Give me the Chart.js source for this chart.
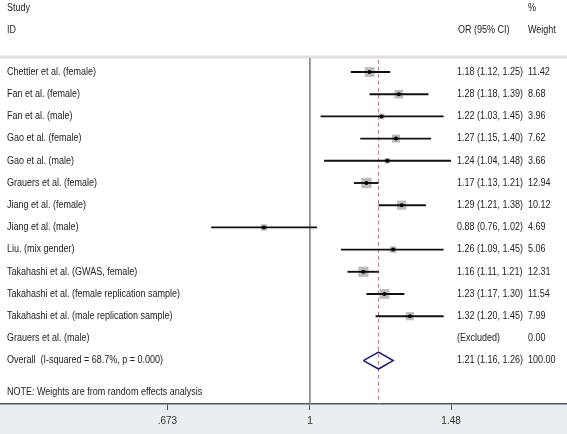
<!DOCTYPE html>
<html>
<head>
<meta charset="utf-8">
<script src="https://cdn.jsdelivr.net/npm/chart.js@4/dist/chart.umd.min.js"></script>
<style>
  html, body { margin: 0; padding: 0; background: #fff; }
  #wrap { width: 567px; height: 434px; position: relative; }
</style>
</head>
<body>
<div id="wrap"><canvas id="forestChart"></canvas></div>
<script>
// study data (odds ratios, 95% CI, random effects weights)
let studies = [
	'Chettier et al. (female)',
	'Fan et al. (female)',
	'Fan et al. (male)',
	'Gao et al. (female)',
	'Gao et al. (male)',
	'Grauers et al. (female)',
	'Jiang et al. (female)',
	'Jiang et al. (male)',
	'Liu. (mix gender)',
	'Takahashi et al. (GWAS, female)',
	'Takahashi et al. (female replication sample)',
	'Takahashi et al. (male replication sample)',
	'Grauers et al. (male)'
];
let oddsRatio = [1.18, 1.28, 1.22, 1.27, 1.24, 1.17, 1.29, 0.88, 1.26, 1.16, 1.23, 1.32, null];
let ciLower = [1.12, 1.18, 1.03, 1.15, 1.04, 1.13, 1.21, 0.76, 1.09, 1.11, 1.17, 1.20, null];
let ciUpper = [1.25, 1.39, 1.45, 1.40, 1.48, 1.21, 1.38, 1.02, 1.45, 1.21, 1.30, 1.45, null];
let weights = [11.42, 8.68, 3.96, 7.62, 3.66, 12.94, 10.12, 4.69, 5.06, 12.31, 11.54, 7.99, 0.00];

let overallOR = 1.21;
let overallLower = 1.16;
let overallUpper = 1.26;
let overallWeight = 100.00;
let iSquared = 68.7;
let pValue = 0.000;

let tickValues = [0.673, 1, 1.48];
let tickLabels = ['.673', '1', '1.48'];

let overallRow = studies.length + 1;

let fmt = v => v.toFixed(2);

// text drawn with the stata-like narrow look
function drawText(ctx, s, x, y, align) {
	ctx.save();
	ctx.translate(x, y);
	ctx.scale(0.9, 1);
	ctx.textAlign = align || 'left';
	ctx.fillText(s, 0, 0);
	ctx.restore();
}

let forestPlugin = {
	id: 'forest',
	beforeDraw(chart) {
		let ctx = chart.ctx;
		let area = chart.chartArea;
		let y = chart.scales.y;
		ctx.save();
		ctx.fillStyle = '#ffffff';
		ctx.fillRect(0, 0, chart.width, chart.height);
		ctx.fillStyle = '#e9eff1';
		ctx.fillRect(0, area.bottom, chart.width, chart.height - area.bottom);
		// header rule
		ctx.strokeStyle = '#dedede';
		ctx.lineWidth = 3;
		ctx.beginPath();
		ctx.moveTo(0, y.getPixelForValue(0.324));
		ctx.lineTo(chart.width, y.getPixelForValue(0.324));
		ctx.stroke();
		ctx.restore();
	},
	beforeDatasetsDraw(chart) {
		let ctx = chart.ctx;
		let x = chart.scales.x;
		let y = chart.scales.y;
		let bottom = chart.chartArea.bottom;
		ctx.save();
		// no effect line
		ctx.strokeStyle = '#7c7c7c';
		ctx.lineWidth = 1.5;
		ctx.beginPath();
		ctx.moveTo(x.getPixelForValue(1), y.getPixelForValue(0.37));
		ctx.lineTo(x.getPixelForValue(1), bottom);
		ctx.stroke();
		// overall effect line
		ctx.strokeStyle = '#b98a8a';
		ctx.lineWidth = 1.2;
		ctx.setLineDash([4, 3]);
		ctx.beginPath();
		ctx.moveTo(x.getPixelForValue(overallOR), y.getPixelForValue(0.45));
		ctx.lineTo(x.getPixelForValue(overallOR), bottom);
		ctx.stroke();
		ctx.restore();
	},
	afterDraw(chart) {
		let ctx = chart.ctx;
		let y = chart.scales.y;
		ctx.save();
		ctx.fillStyle = '#222';
		ctx.font = '10px "Liberation Sans", Arial, sans-serif';
		ctx.textBaseline = 'middle';

		drawText(ctx, 'Study', 7, y.getPixelForValue(-1.88));
		drawText(ctx, 'ID', 7, y.getPixelForValue(-0.89));
		drawText(ctx, '%', 528, y.getPixelForValue(-1.88));
		drawText(ctx, 'OR (95% CI)', 458, y.getPixelForValue(-0.89));
		drawText(ctx, 'Weight', 528, y.getPixelForValue(-0.89));

		studies.forEach((name, i) => {
			let py = y.getPixelForValue(i + 1);
			drawText(ctx, name, 7, py);
			let orText = oddsRatio[i] === null ? '(Excluded)' :
				fmt(oddsRatio[i]) + ' (' + fmt(ciLower[i]) + ', ' + fmt(ciUpper[i]) + ')';
			drawText(ctx, orText, 457, py);
			drawText(ctx, fmt(weights[i]), 528, py);
		});

		let py = y.getPixelForValue(overallRow);
		drawText(ctx, 'Overall  (I-squared = ' + iSquared.toFixed(1) + '%, p = ' + pValue.toFixed(3) + ')', 7, py);
		drawText(ctx, fmt(overallOR) + ' (' + fmt(overallLower) + ', ' + fmt(overallUpper) + ')', 457, py);
		drawText(ctx, fmt(overallWeight), 528, py);

		drawText(ctx, 'NOTE: Weights are from random effects analysis', 7, y.getPixelForValue(15.42));
		ctx.restore();
	}
};

let datasets = [];

// confidence interval lines
oddsRatio.forEach((v, i) => {
	if (v === null) return;
	datasets.push({
		data: [{x: ciLower[i], y: i + 1}, {x: ciUpper[i], y: i + 1}],
		showLine: true,
		borderColor: '#111',
		borderWidth: 1.9,
		pointRadius: 0,
		order: 2
	});
});

let shown = oddsRatio.map((v, i) => i).filter(i => oddsRatio[i] !== null);

// weight boxes
datasets.push({
	data: shown.map(i => ({x: oddsRatio[i], y: i + 1})),
	pointStyle: 'rect',
	pointRadius: shown.map(i => Math.sqrt(weights[i]) * 2.9 / Math.SQRT2),
	backgroundColor: '#bdbdbd',
	borderWidth: 0,
	order: 3
});

// point estimates
datasets.push({
	data: shown.map(i => ({x: oddsRatio[i], y: i + 1})),
	pointStyle: 'circle',
	pointRadius: 2,
	backgroundColor: '#000',
	borderWidth: 0,
	order: 1
});

// overall diamond
let half = 0.38;
datasets.push({
	data: [
		{x: overallLower, y: overallRow},
		{x: overallOR, y: overallRow - half},
		{x: overallUpper, y: overallRow},
		{x: overallOR, y: overallRow + half},
		{x: overallLower, y: overallRow}
	],
	showLine: true,
	borderColor: '#1d1b6b',
	borderWidth: 1.6,
	pointRadius: 0,
	order: 0
});

let forestctx = document.getElementById('forestChart').getContext('2d');

let forestChart = new Chart(forestctx, {
	type: 'scatter',
	data: { datasets: datasets },
	plugins: [forestPlugin],
	options: {
		responsive: true,
		maintainAspectRatio: false,
		animation: false,
		layout: { padding: 0, autoPadding: false },
		plugins: {
			legend: { display: false },
			tooltip: { enabled: false }
		},
		scales: {
			x: {
				type: 'logarithmic',
				bounds: 'data',
				min: 0.4227,
				max: 2.0425,
				afterBuildTicks: scale => {
					scale.ticks = tickValues.map(v => ({value: v}));
				},
				afterFit: scale => {
					scale.height = 30;
					scale.paddingLeft = 0;
					scale.paddingRight = 0;
				},
				ticks: {
					autoSkip: false,
					maxRotation: 0,
					color: '#333',
					padding: 5,
					font: { size: 10, family: '"Liberation Sans", Arial, sans-serif' },
					callback: (value) => {
						let idx = tickValues.indexOf(value);
						return idx >= 0 ? tickLabels[idx] : '';
					}
				},
				grid: {
					drawOnChartArea: false,
					drawTicks: true,
					tickLength: 6,
					color: '#555'
				},
				border: { display: true, color: '#555', width: 1.5 }
			},
			y: {
				type: 'linear',
				display: false,
				reverse: true,
				min: -2.243,
				max: 15.955
			}
		}
	}
});
</script>
</body>
</html>
